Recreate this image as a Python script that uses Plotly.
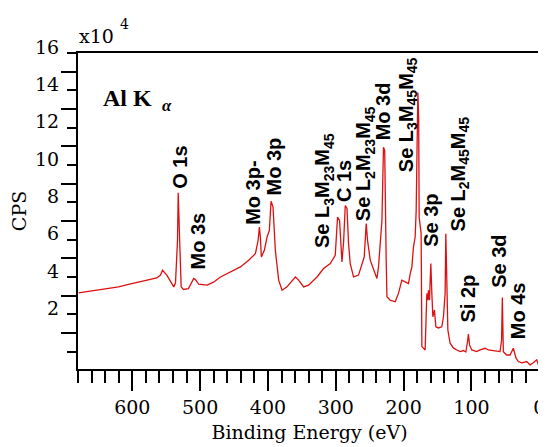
import plotly.graph_objects as go

# Spectrum: binding energy (eV) and counts (CPS, in units of 1e4)
binding_energy = [679.1, 659.5, 639.3, 620.2, 605.5, 590.8, 576.1, 563.8, 558.4, 555.4,
                  549.1, 542.6, 538.8, 536.3, 534.4, 533.3, 532.3, 531.1, 530.0, 527.9,
                  524.5, 517.2, 512.7, 509.4, 506.9, 502.0, 489.6, 480.3, 470.0, 455.3,
                  440.6, 428.4, 418.5, 414.5, 412.6, 411.2, 409.7, 405.3, 401.3, 397.9,
                  395.4, 392.5, 389.1, 384.2, 379.2, 371.9, 365.5, 359.6, 354.8, 347.4,
                  340.1, 327.7, 318.0, 308.1, 300.8, 297.4, 294.4, 292.4, 290.9, 288.5,
                  286.0, 283.5, 281.2, 278.7, 273.8, 266.5, 261.4, 258.1, 255.1, 253.2,
                  249.2, 244.4, 239.4, 237.0, 234.5, 232.0, 229.7, 227.9, 225.7, 224.6,
                  219.8, 212.4, 207.6, 202.6, 197.7, 192.8, 190.3, 187.8, 185.5, 183.0,
                  181.5, 180.3, 179.0, 177.8, 177.1, 174.2, 173.1, 168.3, 165.8, 164.3,
                  163.4, 161.9, 159.9, 158.4, 156.9, 154.6, 152.5, 148.7, 143.7, 141.3,
                  138.8, 137.8, 136.3, 134.8, 131.5, 126.6, 121.6, 116.7, 111.9, 108.3,
                  105.7, 104.5, 102.8, 99.5, 92.2, 87.3, 79.9, 75.1, 67.7, 57.9,
                  55.6, 54.5, 53.0, 48.0, 43.1, 38.3, 34.3, 30.9, 25.9, 18.5,
                  13.7, 8.8, 3.8, 0.4]
cps_1e4 = [3.15, 3.26, 3.37, 3.47, 3.61, 3.74, 3.85, 3.95, 4.10, 4.36,
           4.10, 3.74, 3.47, 3.67, 5.80, 5.96, 8.51, 5.96, 5.79, 3.47,
           3.33, 3.38, 3.72, 3.92, 3.86, 3.61, 3.56, 3.72, 4.00, 4.27,
           4.54, 4.90, 5.25, 5.96, 6.67, 6.14, 5.07, 5.43, 6.14, 6.50,
           8.06, 7.74, 5.43, 3.83, 3.29, 3.47, 3.72, 4.00, 3.83, 3.47,
           3.56, 4.00, 4.45, 4.72, 5.16, 7.21, 7.03, 5.25, 4.80, 5.87,
           7.83, 7.67, 5.79, 4.72, 4.00, 4.10, 4.72, 5.07, 6.86, 5.96,
           4.90, 4.36, 3.92, 4.54, 5.96, 7.03, 10.95, 10.77, 4.90, 2.94,
           2.76, 2.67, 3.12, 3.83, 3.74, 3.65, 4.18, 4.54, 5.60, 6.14,
           7.56, 12.9, 13.88, 12.4, 7.20, 6.34, 0.27, 0.09, 3.12, 2.76,
           3.29, 2.76, 4.72, 3.12, 1.87, 2.23, 1.33, 1.27, 1.33, 1.87,
           3.12, 6.32, 3.47, 1.16, 0.45, 0.20, 0.09, 0.00, 0.06, -0.02,
           0.57, 0.94, 0.36, 0.09, 0.00, 0.09, 0.18, 0.09, 0.05, 0.00,
           0.62, 2.90, 0.00, -0.18, -0.18, 0.18, -0.35, -0.53, -0.60, -0.53,
           -0.71, -0.60, -0.44, -0.80]

# Peak labels: text, energy of label centre, CPS (1e4) at label start
peak_labels = ["O 1s", "Mo 3s", "Mo 3p-", "Mo 3p",
               "Se L<sub>3</sub>M<sub>23</sub>M<sub>45</sub>", "C 1s",
               "Se L<sub>2</sub>M<sub>23</sub>M<sub>45</sub>", "Mo 3d",
               "Se L<sub>3</sub>M<sub>45</sub>M<sub>45</sub>", "Se 3p",
               "Se L<sub>2</sub>M<sub>45</sub>M<sub>45</sub>", "Se 3d", "Si 2p", "Mo 4s"]
label_energy = [530.0, 503.0, 422.5, 390.5, 317.0, 287.5, 256.6, 230.8,
                194.0, 160.0, 118.0, 59.3, 105.7, 31.4]
label_base = [8.63, 4.27, 6.67, 8.28, 5.43, 7.92, 6.87, 11.2,
              9.52, 5.52, 6.32, 3.29, 1.43, 0.53]

x_major = [0, 100, 200, 300, 400, 500, 600]
y_major = [0, 2, 4, 6, 8, 10, 12, 14, 16]
y_major_text = ["", "2", "4", "6", "8", "10", "12", "14", "16"]
y_minor = [1, 3, 5, 7, 9, 11, 13, 15]

serif = "DejaVu Serif"
bold_serif = "Liberation Serif"
sans = "Liberation Sans"

# The page body adds an 8px offset; the figure is sized so the plot lands
# where the reference has it.
W, H = 538, 439
ML, MR, MT, MB = 70, 5, 45, 78
PW, PH = W - ML - MR, H - MT - MB


def px_x(sx):
    return (sx - 8 - ML) / PW


def px_y(sy):
    return (H - MB - (sy - 8)) / PH


fig = go.Figure()
fig.add_trace(go.Scatter(x=binding_energy, y=cps_1e4, mode="lines",
                         line=dict(color="#dd1010", width=1.3),
                         showlegend=False, hoverinfo="skip"))

for txt, e, b in zip(peak_labels, label_energy, label_base):
    fig.add_annotation(x=e, y=b, xref="x", yref="y", text="<b>" + txt + "</b>",
                       textangle=-90, showarrow=False, xanchor="center", yanchor="bottom",
                       font=dict(family=sans, size=20, color="black"))

fig.add_annotation(x=px_x(101), y=px_y(100), xref="paper", yref="paper",
                   text="<b>Al K\u00a0<sub>\u00a0<i>α</i></sub></b>",
                   showarrow=False, xanchor="left", yanchor="middle",
                   font=dict(family=bold_serif, size=24, color="black"))

fig.add_annotation(x=px_x(77), y=px_y(49), xref="paper", yref="paper", text="x10",
                   showarrow=False, xanchor="left", yanchor="bottom",
                   font=dict(family=serif, size=19, color="black"))
fig.add_annotation(x=px_x(118), y=px_y(34), xref="paper", yref="paper",
                   text="4", showarrow=False, xanchor="left", yanchor="bottom",
                   font=dict(family=serif, size=14, color="black"))

fig.update_layout(
    width=W, height=H,
    margin=dict(l=ML, r=MR, t=MT, b=MB, autoexpand=False),
    paper_bgcolor="white", plot_bgcolor="white",
    xaxis=dict(range=[680, -2.5], showline=True, linecolor="black", linewidth=2,
               mirror=True, showgrid=False, zeroline=False,
               ticks="outside", ticklen=20, tickwidth=1.5, tickcolor="black",
               tickvals=x_major, ticktext=[str(v) for v in x_major],
               tickfont=dict(family=serif, size=19, color="black"),
               minor=dict(dtick=20, tick0=0, ticks="outside", ticklen=12,
                          tickwidth=1.5, tickcolor="black", showgrid=False),
               title=dict(text="Binding Energy (eV)",
                          font=dict(family=serif, size=19, color="black"), standoff=9)),
    yaxis=dict(range=[-0.93, 16], showline=True, linecolor="black", linewidth=2,
               showgrid=False, zeroline=False,
               ticks="outside", ticklen=9, tickwidth=1.5, tickcolor="black",
               tickvals=y_major, ticktext=y_major_text, ticklabelshift=-6,
               ticklabelstandoff=4,
               tickfont=dict(family=serif, size=19, color="black"),
               minor=dict(tickvals=y_minor, ticks="outside", ticklen=15,
                          tickwidth=1.5, tickcolor="black", showgrid=False),
               title=dict(text="CPS", font=dict(family=serif, size=19, color="black"),
                          standoff=8)),
)

fig.write_html("out.html")
